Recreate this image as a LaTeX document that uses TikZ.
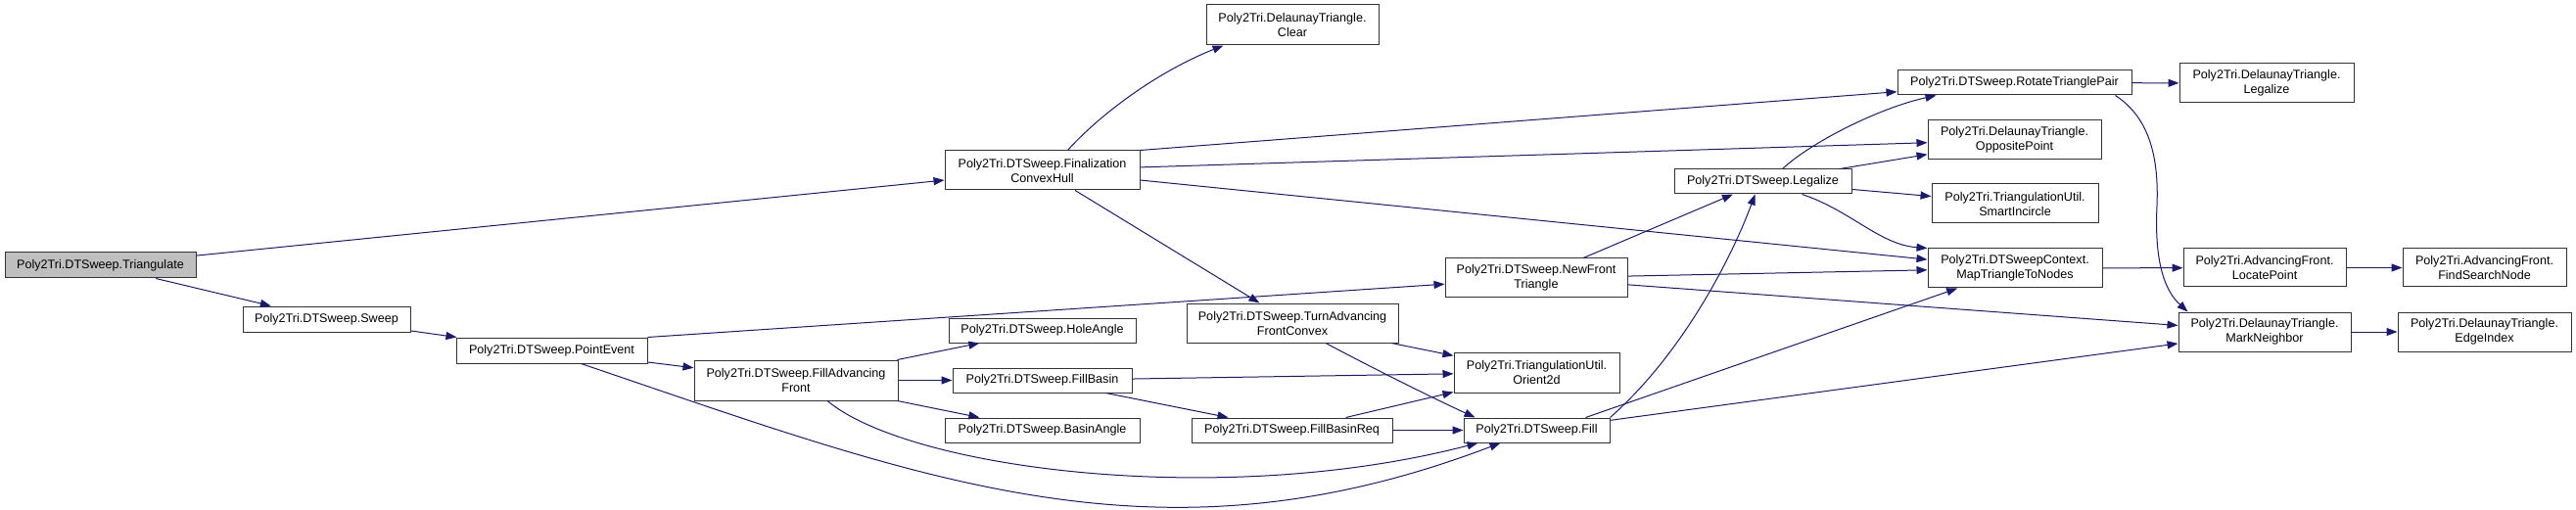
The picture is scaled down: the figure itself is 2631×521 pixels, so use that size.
\documentclass[tikz,border=0pt]{standalone}
\usepackage{fontspec}
\setmainfont{Liberation Sans}
\usepackage{tikz}
\usetikzlibrary{arrows.meta}
\definecolor{callcolor}{HTML}{191970}
\definecolor{boxcolor}{HTML}{333333}
\definecolor{rootcolor}{HTML}{BFBFBF}
\tikzset{
  fnbox/.style={draw=boxcolor,fill=white,line width=1pt,inner sep=0pt,align=center,
                font=\fontsize{12.6}{15}\selectfont},
  call/.style={draw=callcolor,line width=1pt,-{Triangle[length=11pt,width=8pt]}}
}
\begin{document}
\begin{tikzpicture}[x=1pt,y=-1pt]
    \useasboundingbox (0,0) rectangle (2631,521);
    \node[fnbox,fill=rootcolor,minimum width=195pt,minimum height=26pt] (tri) at (102.5,271)
      {Poly2Tri.DTSweep.Triangulate};
    \foreach \n/\px/\py/\bw/\bh/\lab in {
        sweep/333.5/326/171/26/{Poly2Tri.DTSweep.Sweep},
        pevent/563.5/358/195/26/{Poly2Tri.DTSweep.PointEvent},
        fch/1064.5/174/199/40/{Poly2Tri.DTSweep.Finalization\\ConvexHull},
        clear/1320/25.5/176/41/{Poly2Tri.DelaunayTriangle.\\Clear},
        faf/813/388.5/208/41/{Poly2Tri.DTSweep.FillAdvancing\\Front},
        hole/1064.5/337.5/191/25/{Poly2Tri.DTSweep.HoleAngle},
        fbasin/1064.5/388.5/183/25/{Poly2Tri.DTSweep.FillBasin},
        bangle/1064.5/439.5/199/25/{Poly2Tri.DTSweep.BasinAngle},
        tafc/1320/330/216/40/{Poly2Tri.DTSweep.TurnAdvancing\\FrontConvex},
        fbreq/1319.5/439.5/205/25/{Poly2Tri.DTSweep.FillBasinReq},
        nft/1569/284/186/40/{Poly2Tri.DTSweep.NewFront\\Triangle},
        orient/1569.5/380.5/169/41/{Poly2Tri.TriangulationUtil.\\Orient2d},
        fillfn/1569.5/439.5/149/25/{Poly2Tri.DTSweep.Fill},
        legal/1800.5/185.5/181/25/{Poly2Tri.DTSweep.Legalize},
        rtp/2057.5/84.5/239/25/{Poly2Tri.DTSweep.RotateTrianglePair},
        opp/2057.5/143/177/40/{Poly2Tri.DelaunayTriangle.\\OppositePoint},
        incircle/2058/208/170/40/{Poly2Tri.TriangulationUtil.\\SmartIncircle},
        maptri/2058/274/178/40/{Poly2Tri.DTSweepContext.\\MapTriangleToNodes},
        dtlegal/2315/85/178/40/{Poly2Tri.DelaunayTriangle.\\Legalize},
        locpt/2313/273.5/166/39/{Poly2Tri.AdvancingFront.\\LocatePoint},
        fsn/2537.5/273.5/167/39/{Poly2Tri.AdvancingFront.\\FindSearchNode},
        markn/2313/339/176/40/{Poly2Tri.DelaunayTriangle.\\MarkNeighbor},
        edgeidx/2537.5/339/177/40/{Poly2Tri.DelaunayTriangle.\\EdgeIndex}} {
      \node[fnbox,minimum width=\bw*1pt,minimum height=\bh*1pt] (\n) at (\px,\py) {\lab};
    }

    \draw[call] (tri) -- (fch);
    \draw[call] (tri) -- (sweep);
    \draw[call] (sweep) -- (pevent);
    \draw[call] (pevent.north east) -- (nft);
    \draw[call] (pevent) -- (faf);
    \draw[call] ([xshift=30pt]pevent.south) .. controls (943,490) and (1182,586) .. ([xshift=-37pt]fillfn.south);
    \draw[call] ([xshift=26pt]fch.north) .. controls (1130,110) and (1190,70) .. ([xshift=18pt]clear.south west);
    \draw[call] (fch.north east) -- (rtp);
    \draw[call] (fch) -- (opp);
    \draw[call] (fch) -- (maptri);
    \draw[call] (fch) -- (tafc);
    \draw[call] (faf) -- (hole);
    \draw[call] (faf) -- (fbasin);
    \draw[call] (faf) -- (bangle);
    \draw[call] ([xshift=32pt]faf.south) .. controls (930,480) and (1250,520) .. ([xshift=15pt]fillfn.south west);
    \draw[call] (fbasin) -- (orient);
    \draw[call] (fbasin) -- (fbreq);
    \draw[call] (fbreq) -- (orient);
    \draw[call] (fbreq) -- (fillfn);
    \draw[call] (tafc) -- (orient);
    \draw[call] ([xshift=34pt]tafc.south) .. controls (1400,375) and (1460,405) .. ([xshift=12pt]fillfn.north west);
    \draw[call] (nft) -- (legal);
    \draw[call] (nft) -- (maptri);
    \draw[call] (nft) -- (markn);
    \draw[call] (fillfn.north east) .. controls (1720,360) and (1770,260) .. ([xshift=-8pt]legal.south);
    \draw[call] ([xshift=50pt]fillfn.north) -- (maptri);
    \draw[call] (fillfn) -- (markn);
    \draw[call] ([xshift=20pt]legal.north) .. controls (1850,145) and (1920,110) .. ([xshift=40pt]rtp.south west);
    \draw[call] (legal) -- (opp);
    \draw[call] (legal) -- (incircle);
    \draw[call] ([xshift=40pt]legal.south) .. controls (1890,215) and (1920,250) .. (maptri.north west);
    \draw[call] (rtp) -- (dtlegal);
    \draw[call] ([xshift=-17pt]rtp.south east) .. controls (2195,120) and (2205,160) .. (2203,210)
                .. controls (2200,270) and (2212,298) .. ([xshift=10pt]markn.north west);
    \draw[call] (maptri) -- (locpt);
    \draw[call] (locpt) -- (fsn);
    \draw[call] (markn) -- (edgeidx);
\end{tikzpicture}
\end{document}
